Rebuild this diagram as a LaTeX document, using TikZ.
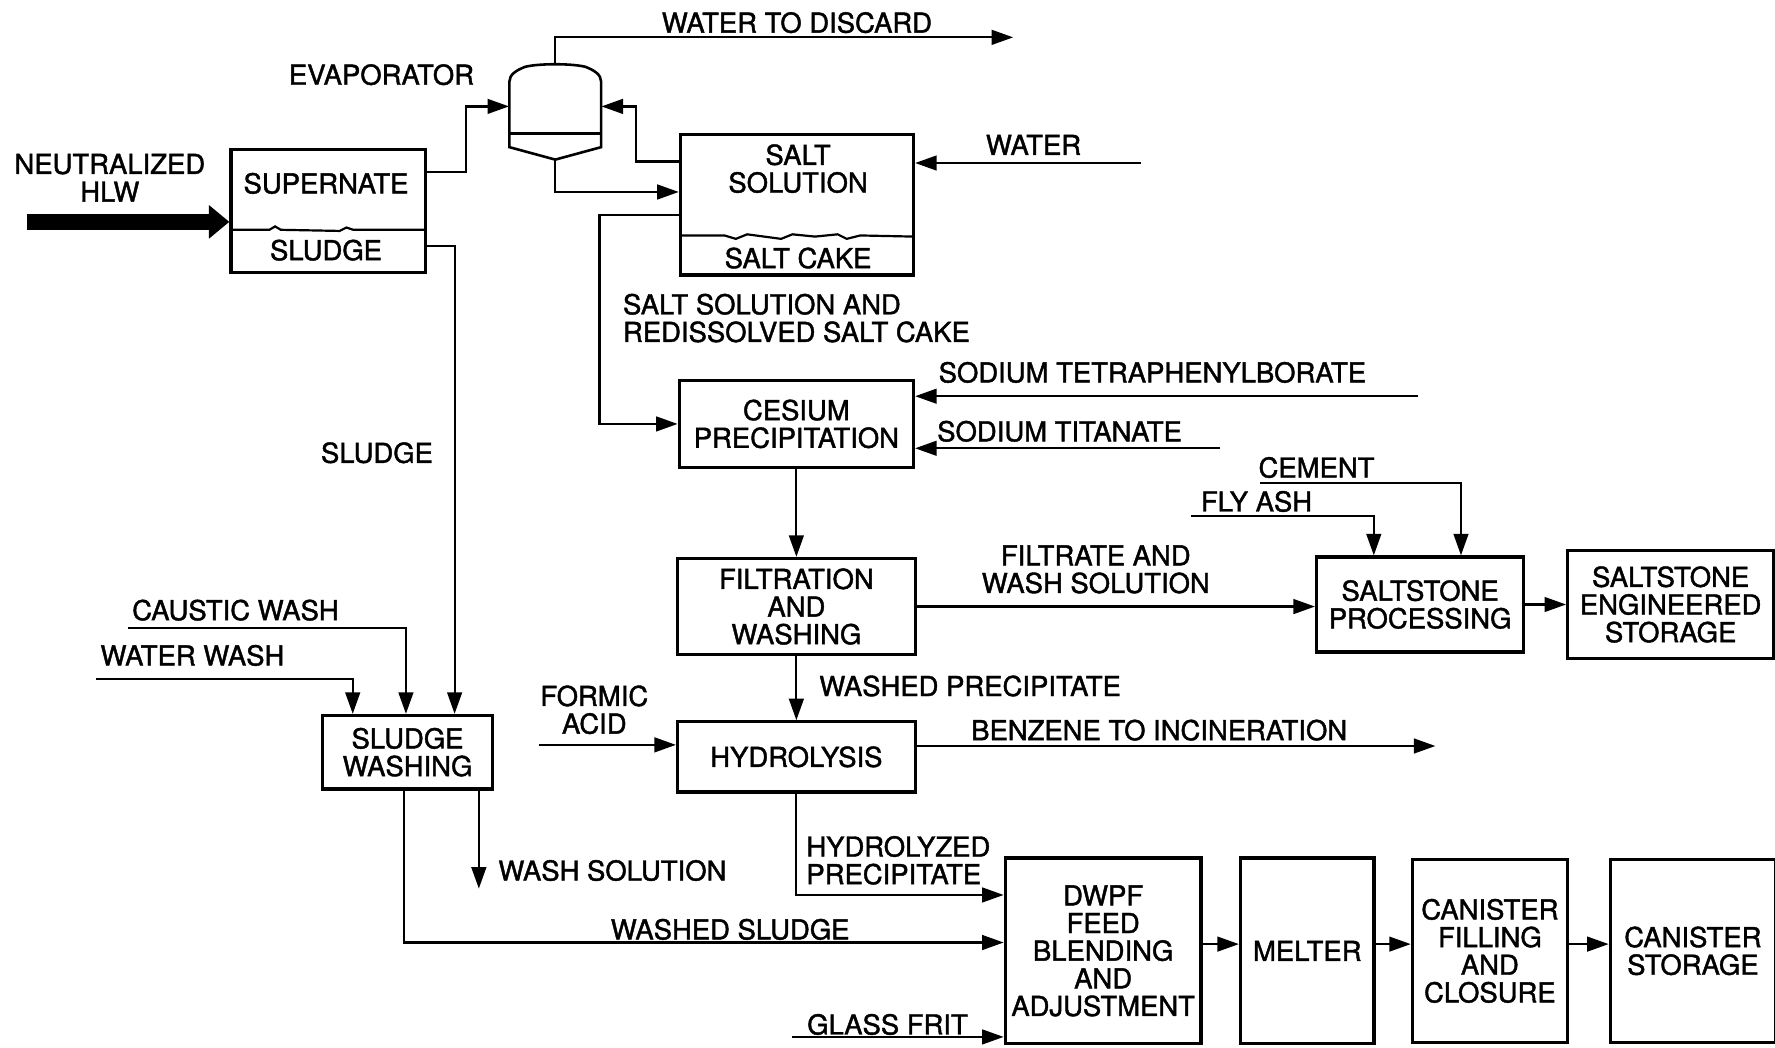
\documentclass[tikz,border=0pt]{standalone}
\usepackage{fontspec}
\setmainfont{TeX Gyre Heros}
\newfontfamily\lbfam{TeX Gyre Heros}[FakeBold=1.5]
\usepackage{tikz}
\usetikzlibrary{arrows.meta,positioning,calc}
\newcommand{\lbfont}{\lbfam\fontsize{13.8}{13.9}\selectfont}
\tikzset{
  unit/.style={draw=black,line width=1.6pt,inner sep=1pt,align=center,font=\lbfont},
  tankbox/.style={draw=black,line width=1.6pt,inner sep=0pt},
  lbl/.style={inner sep=0pt,align=center,font=\lbfont},
  pipe/.style={line width=1.1pt},
  flow/.style={-{Triangle[length=3.8mm,width=2.6mm]},line width=1.1pt},
  feed/.style={-{Triangle[length=3.6mm,width=5.7mm]},line width=2.9mm},
}

\begin{document}
\begin{tikzpicture}[x=0.2mm,y=-0.2mm]
  \useasboundingbox (0,0) rectangle (1568,925);
  \node[tankbox,minimum width=3.44cm,minimum height=2.18cm] (tank) at (290,186.5) {};
  \node[lbl] (supn) at (288,162) {SUPERNATE};
  \node[lbl] (sldg) at (288,221) {SLUDGE};
  \draw[pipe] (204,203) -- (238,203) -- (243,200) -- (248,203) -- (300,204)
              -- (306,201) -- (312,203) -- (376,203);
  \node[tankbox,minimum width=4.12cm,minimum height=2.48cm] (salt) at (704,181) {};
  \node[lbl] (saltsol) at (705,149) {SALT\\SOLUTION};
  \node[lbl] (saltcake) at (705,228) {SALT CAKE};
  \draw[pipe] (601,208) -- (640,208) -- (650,211) -- (660,207) -- (675,209) -- (690,211)
              -- (700,207) -- (720,209) -- (740,207) -- (748,211) -- (760,208) -- (807,209);
  \node[minimum width=1.62cm,minimum height=1.7cm,inner sep=0pt] (evap) at (490.5,98.5) {};
  \draw[line width=1.3pt] (450,130) -- (450,72) .. controls (450,66) and (456,62) .. (464,59)
        .. controls (476,56) and (505,56) .. (517,59) .. controls (525,62) and (531,66) .. (531,72)
        -- (531,130) -- (490.5,141) -- cycle;
  \draw[line width=1.3pt] (450,118) -- (531,118);

  \node[unit,minimum width=4.14cm,minimum height=1.54cm] (cs) at (703.5,374.5) {CESIUM\\PRECIPITATION};
  \node[unit,minimum width=4.2cm,minimum height=1.7cm,below=1.55cm of cs] (filt) {FILTRATION\\AND\\WASHING};
  \node[unit,minimum width=4.2cm,minimum height=1.24cm,below=1.13cm of filt] (hyd) {HYDROLYSIS};
  \node[unit,minimum width=3.66cm,minimum height=1.68cm] (sps) at (1254.5,534) {SALTSTONE\\PROCESSING};
  \node[unit,minimum width=3.64cm,minimum height=1.92cm,right=0.72cm of sps] (ses) {SALTSTONE\\ENGINEERED\\STORAGE};
  \node[unit,minimum width=3cm,minimum height=1.3cm] (sw) at (360,664.5) {SLUDGE\\WASHING};
  \node[unit,minimum width=3.46cm,minimum height=3.28cm] (dwpf) at (974.5,840) {DWPF\\FEED\\BLENDING\\AND\\ADJUSTMENT};
  \node[unit,minimum width=2.36cm,minimum height=3.28cm,right=0.64cm of dwpf] (melt) {MELTER};
  \node[unit,minimum width=2.74cm,minimum height=3.24cm,right=0.62cm of melt] (can) {CANISTER\\FILLING\\AND\\CLOSURE};
  \node[unit,minimum width=2.92cm,minimum height=3.24cm,right=0.70cm of can] (stor) {CANISTER\\STORAGE};

  \node[lbl] (hlw) at (97,157) {NEUTRALIZED\\HLW};
  \node[lbl] (evaplbl) at (337,66) {EVAPORATOR};
  \node[lbl] (discardlbl) at (704,20) {WATER TO DISCARD};
  \node[lbl] (waterlbl) at (913,128) {WATER};
  \node[lbl,align=left,anchor=west] (redis) at (550,281) {SALT SOLUTION AND\\REDISSOLVED SALT CAKE};
  \node[lbl] (sludgelbl) at (333,400) {SLUDGE};
  \node[lbl] (ntpblbl) at (1018,329) {SODIUM TETRAPHENYLBORATE};
  \node[lbl] (natilbl) at (936,381) {SODIUM TITANATE};
  \node[lbl] (cementlbl) at (1163,413) {CEMENT};
  \node[lbl] (flyashlbl) at (1110,443) {FLY ASH};
  \node[lbl] (filtratelbl) at (968,503) {FILTRATE AND\\WASH SOLUTION};
  \node[lbl] (washpreclbl) at (857,606) {WASHED PRECIPITATE};
  \node[lbl] (formiclbl) at (525,627) {FORMIC\\ACID};
  \node[lbl] (benzenelbl) at (1024,645) {BENZENE TO INCINERATION};
  \node[lbl,align=left,anchor=west] (hydpreclbl) at (712,760) {HYDROLYZED\\PRECIPITATE};
  \node[lbl] (causticlbl) at (208,539) {CAUSTIC WASH};
  \node[lbl] (waterwashlbl) at (170,579) {WATER WASH};
  \node[lbl] (washsollbl) at (541,769) {WASH SOLUTION};
  \node[lbl] (washsludgelbl) at (645,821) {WASHED SLUDGE};
  \node[lbl] (fritlbl) at (784,905) {GLASS FRIT};

  \coordinate (hlwin) at (24,196);
  \coordinate (discard) at (895,33);
  \coordinate (waterin) at (1008,144);
  \coordinate (ntpb) at (1253,350);
  \coordinate (nati) at (1078,396);
  \coordinate (cement) at (1113,427);
  \coordinate (flyash) at (1052,456);
  \coordinate (formic) at (476,658);
  \coordinate (benzene) at (1268,659);
  \coordinate (caustic) at (113,555);
  \coordinate (waterwash) at (85,600);
  \coordinate (washsol) at (423,785);
  \coordinate (frit) at (700,916);

  \draw[feed] (hlwin) -- (hlwin -| tank.west);
  \draw[flow] ($(tank.north east)+(0,21)$) -- ++(34,0) |- ([yshift=0.09cm]evap.west);
  \draw[flow] (evap.north) |- (discard);
  \draw[flow] (evap.south) |- ($(salt.north west)+(0,52)$);
  \draw[flow] ($(salt.north west)+(0,25)$) -- ++(-38,0) |- ([yshift=0.09cm]evap.east);
  \draw[flow] (waterin) -- (waterin -| salt.east);
  \draw[flow] ($(salt.north west)+(0,72)$) -- ++(-70,0) |- (cs.west);
  \draw[flow] ($(tank.north east)+(0,87)$) -| ($(sw.north west)+(118,0)$);
  \draw[flow] (ntpb) -- (ntpb -| cs.east);
  \draw[flow] (nati) -- (nati -| cs.east);
  \draw[flow] (cs.south) -- (filt.north);
  \draw[flow] (filt.east) -- (filt.east -| sps.west);
  \draw[flow] (flyash) -| ($(sps.north west)+(52,0)$);
  \draw[flow] (cement) -| ($(sps.north west)+(129,0)$);
  \draw[flow] (sps.east) -- (sps.east -| ses.west);
  \draw[flow] (filt.south) -- (hyd.north);
  \draw[flow] (formic) -- (formic -| hyd.west);
  \draw[flow] (benzene -| hyd.east) -- (benzene);
  \draw[flow] (hyd.south) |- ($(dwpf.north west)+(0,34)$);
  \draw[flow] (caustic) -| ($(sw.north west)+(75,0)$);
  \draw[flow] (waterwash) -| ($(sw.north west)+(28,0)$);
  \draw[flow] (washsol |- sw.south) -- (washsol);
  \draw[flow] ($(sw.south west)+(73,0)$) |- ($(dwpf.north west)+(0,76)$);
  \draw[flow] (frit) -- (frit -| dwpf.west);
  \draw[flow] ($(dwpf.east)+(0,-6)$) -- ($(melt.west)+(0,-6)$);
  \draw[flow] ($(melt.east)+(0,-6)$) -- ($(can.west)+(0,-6)$);
  \draw[flow] ($(can.east)+(0,-6)$) -- ($(stor.west)+(0,-6)$);
\end{tikzpicture}
\end{document}
